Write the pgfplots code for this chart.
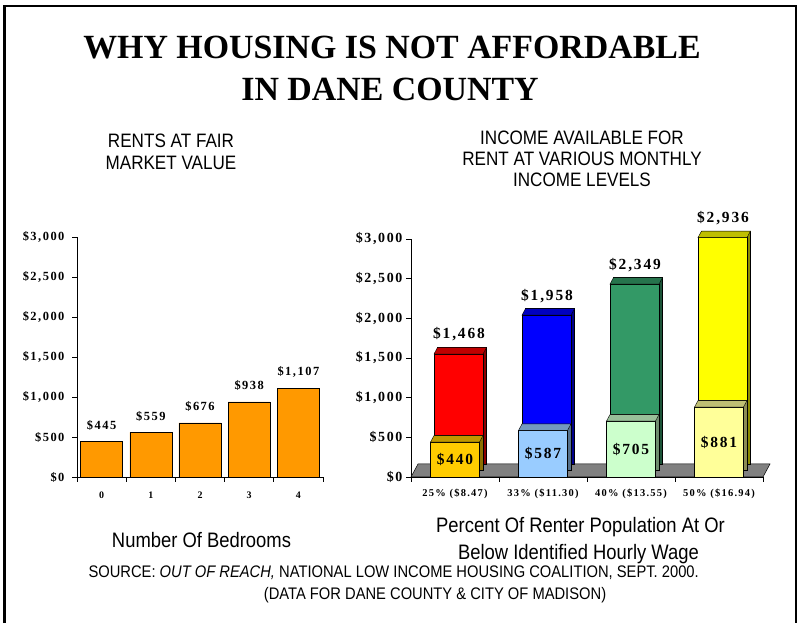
\documentclass[border=0pt]{standalone}
\usepackage{fontspec}
\setmainfont{Liberation Serif}
\newfontfamily\capsf[FakeStretch=0.88]{Liberation Sans}
\newfontfamily\numf[LetterSpace=12]{Liberation Serif}
\usepackage{pgfplots}
\pgfplotsset{compat=1.18}

\definecolor{barorange}{HTML}{FF9900}
\definecolor{floorgray}{HTML}{808080}
\definecolor{cred}{HTML}{FF0000}
\definecolor{cblue}{HTML}{0000FF}
\definecolor{cgreen}{HTML}{339966}
\definecolor{cyellow}{HTML}{FFFF00}
\definecolor{cgold}{HTML}{FFCC00}
\definecolor{clblue}{HTML}{99CCFF}
\definecolor{clgreen}{HTML}{CCFFCC}
\definecolor{clyellow}{HTML}{FFFF99}

% top face of a 3D column, drawn at the data point
\pgfdeclareplotmark{topface}{%
  \pgfpathmoveto{\pgfpoint{-24.5bp}{0bp}}%
  \pgfpathlineto{\pgfpoint{24.5bp}{0bp}}%
  \pgfpathlineto{\pgfpoint{28bp}{6.5bp}}%
  \pgfpathlineto{\pgfpoint{-21bp}{6.5bp}}%
  \pgfpathclose
  \pgfusepathqfillstroke}

% #1 category, #2 value, #3 colour, #4 depth row
\newcommand{\colbar}[4]{%
  \addplot[ybar, bar width=49bp, bar shift=0pt, fill=#3!55!black, draw=black, line width=0.4bp,
    xshift={(#4+1)*3.5bp}, yshift={(#4+1)*6.5bp}] coordinates {(#1,#2)};
  \addplot[ybar, bar width=49bp, bar shift=0pt, fill=#3, draw=black, line width=0.4bp,
    xshift={#4*3.5bp}, yshift={#4*6.5bp}] coordinates {(#1,#2)};
  \addplot[only marks, mark=topface, mark options={fill=#3!75!black, draw=black, line width=0.4bp,
    xshift={#4*3.5bp}, yshift={#4*6.5bp}}] coordinates {(#1,#2)};
}
\newcommand{\backbar}[4]{%
  \colbar{#1}{#2}{#3}{1}
  \addplot[draw=none, point meta=explicit symbolic, nodes near coords,
    nodes near coords style={anchor=center, xshift=4bp, yshift=26bp,
      font=\numf\bfseries\fontsize{15.5}{18}\selectfont}] coordinates {(#1,#2) [#4]};
}
\newcommand{\frontbar}[4]{%
  \colbar{#1}{#2}{#3}{0}
  \addplot[draw=none, point meta=explicit symbolic, nodes near coords,
    nodes near coords style={anchor=center, shift={(axis direction cs:0,{-#2/2})},
      font=\numf\bfseries\fontsize{15.5}{18}\selectfont}] coordinates {(#1,#2) [#4]};
}

\begin{document}
\begin{tikzpicture}
\path (0bp,0bp) rectangle (802bp,623bp);
\draw[line width=2.5bp] (4.5bp,0bp) -- (4.5bp,617bp) -- (796bp,617bp) -- (796bp,0bp);

\node[anchor=base, font=\fontsize{34}{40}\selectfont\bfseries] at (392bp,564bp) {WHY HOUSING IS NOT AFFORDABLE};
\node[anchor=base, font=\fontsize{34}{40}\selectfont\bfseries] at (390bp,522bp) {IN DANE COUNTY};

\begin{scope}[every node/.style={anchor=base, font=\capsf\fontsize{19.5}{22}\selectfont}]
\node at (171bp,475bp) {RENTS AT FAIR};
\node at (171bp,453bp) {MARKET VALUE};
\node at (582bp,478bp) {INCOME AVAILABLE FOR};
\node at (582bp,457bp) {RENT AT VARIOUS MONTHLY};
\node at (582bp,436bp) {INCOME LEVELS};
\end{scope}
\begin{scope}[every node/.style={anchor=base, font=\capsf\fontsize{21}{24}\selectfont}]
\node at (201.5bp,75bp) {Number Of Bedrooms};
\node at (580.5bp,90bp) {Percent Of Renter Population At Or};
\node at (578.5bp,63bp) {Below Identified Hourly Wage};
\end{scope}
\node[anchor=base west, font=\capsf\fontsize{16.8}{19}\selectfont] at (85bp,45bp)
  {SOURCE: \textit{OUT OF REACH,} NATIONAL LOW INCOME HOUSING COALITION, SEPT. 2000.};
\node[anchor=base, font=\capsf\fontsize{16.8}{19}\selectfont] at (435bp,24bp)
  {(DATA FOR DANE COUNTY \& CITY OF MADISON)};

% rents at fair market value
\begin{axis}[
  at={(101.6bp,146bp)}, anchor=origin, scale only axis,
  width=246bp, height=240bp,
  xmin=-0.5, xmax=4.5, ymin=0, ymax=3000,
  axis lines=left, axis line style={-, black, line width=0.8bp},
  tick align=outside, major tick length=5bp, tick style={black, line width=0.8bp},
  xtick={-0.5,0.5,...,4.5}, x tick label as interval, xticklabels={0,1,2,3,4},
  ytick={0,500,...,3000},
  yticklabels={\$0,\$500,{\$1,000},{\$1,500},{\$2,000},{\$2,500},{\$3,000}},
  yticklabel style={xshift=-4bp, font=\numf\bfseries\fontsize{12.5}{14}\selectfont},
  xticklabel style={yshift=-6bp, font=\numf\bfseries\fontsize{10}{12}\selectfont},
  clip=false,
]
\addplot[ybar, bar width=42bp, bar shift=0pt, fill=barorange, draw=black, line width=0.6bp,
  point meta=explicit symbolic, nodes near coords,
  nodes near coords style={anchor=center, yshift=16bp, font=\numf\bfseries\fontsize{12.5}{14}\selectfont}]
  coordinates {(0,445) [\$445] (1,559) [\$559] (2,676) [\$676] (3,938) [\$938] (4,1107) [{\$1,107}]};
\end{axis}

% income available for rent
\begin{axis}[
  at={(455bp,146bp)}, anchor=origin, scale only axis,
  width=352bp, height=238bp,
  xmin=-0.5, xmax=3.5, ymin=0, ymax=3000,
  axis lines=left, axis line style={-, black, line width=0.8bp},
  tick align=outside, major tick length=5bp, tick style={black, line width=0.8bp},
  xtick={-0.5,0.5,...,3.5}, x tick label as interval,
  xticklabels={25\% (\$8.47),33\% (\$11.30),40\% (\$13.55),50\% (\$16.94)},
  ytick={0,500,...,3000},
  yticklabels={\$0,\$500,{\$1,000},{\$1,500},{\$2,000},{\$2,500},{\$3,000}},
  yticklabel style={font=\numf\bfseries\fontsize{14}{16}\selectfont},
  xticklabel style={yshift=-3bp, font=\numf\bfseries\fontsize{10.5}{12}\selectfont},
  clip=false,
]
\fill[floorgray, draw=black, line width=0.5bp] (rel axis cs:0,0) -- (rel axis cs:1,0)
  -- ++(7bp,13bp) -- ++(-352bp,0bp) -- cycle;
\backbar{0}{1468}{cred}{{\$1,468}}
\backbar{1}{1958}{cblue}{{\$1,958}}
\backbar{2}{2349}{cgreen}{{\$2,349}}
\backbar{3}{2936}{cyellow}{{\$2,936}}
\frontbar{0}{440}{cgold}{\$440}
\frontbar{1}{587}{clblue}{\$587}
\frontbar{2}{705}{clgreen}{\$705}
\frontbar{3}{881}{clyellow}{\$881}
\end{axis}
\end{tikzpicture}
\end{document}
